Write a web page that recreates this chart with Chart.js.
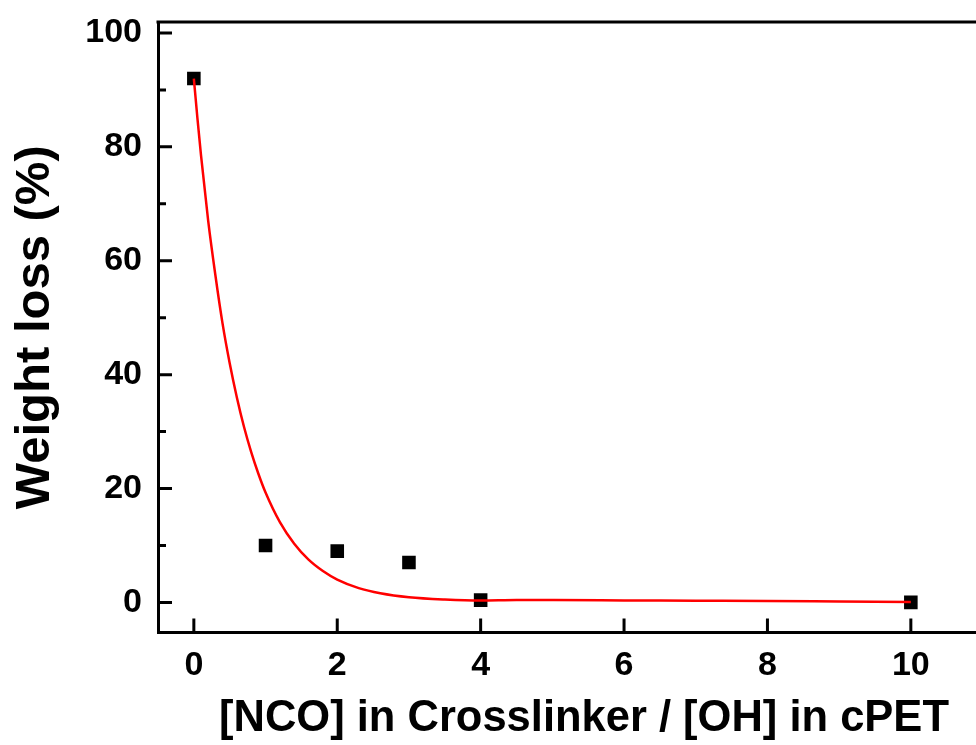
<!DOCTYPE html>
<html>
<head>
<meta charset="utf-8">
<script src="https://cdn.jsdelivr.net/npm/chart.js@4.4.1/dist/chart.umd.min.js"></script>
<style>
  html, body { margin: 0; padding: 0; background: #fff; overflow: hidden; width: 976px; height: 745px; }
  #wrap { width: 1020px; height: 745px; position: relative; }
  canvas { display: block; }
</style>
</head>
<body>
<div id="wrap"><canvas id="c" width="1020" height="745"></canvas></div>
<script>
// ---- data ----
const ratioX = [0, 1, 2, 3, 4, 10];
const weightLoss = [92, 10, 9, 7, 0.4, 0];

// fitted curve
const fitX = [0, 0.05, 0.1, 0.2, 0.3, 0.4, 0.5, 0.6, 0.7, 0.8, 0.9, 1.0, 1.2, 1.4, 1.6, 1.8, 2.0, 2.3, 2.6, 3.0, 3.5, 4.0, 4.5, 5, 6, 7, 8, 9, 10];
const fitY = [92, 85, 78.5, 67, 57.5, 49, 42, 36, 30.8, 26.4, 22.6, 19.3, 14.1, 10.3, 7.5, 5.5, 4.0, 2.5, 1.6, 0.9, 0.5, 0.32, 0.4, 0.4, 0.35, 0.3, 0.25, 0.15, 0.05];

const xTicks = [0, 2, 4, 6, 8, 10];
const yTicks = [0, 20, 40, 60, 80, 100];
const yMinorTicks = [10, 30, 50, 70, 90];

const xTitle = '[NCO] in Crosslinker / [OH] in cPET';
const yTitle = 'Weight loss (%)';

const FONT = '"Liberation Sans", Arial, sans-serif';

const frameTicks = {
  id: 'frameTicks',
  afterDraw(chart) {
    const { ctx, chartArea: a, scales } = chart;
    const x = scales.x, y = scales.y;
    ctx.save();
    ctx.strokeStyle = '#000';
    ctx.lineWidth = 3;
    ctx.lineCap = 'butt';
    ctx.beginPath();
    ctx.moveTo(a.left - 1.5, a.top);
    ctx.lineTo(a.right + 1.5, a.top);
    ctx.moveTo(a.right, a.top);
    ctx.lineTo(a.right, a.bottom);
    yTicks.forEach(v => {
      const p = y.getPixelForValue(v);
      ctx.moveTo(a.left, p); ctx.lineTo(a.left + 14, p);
    });
    yMinorTicks.forEach(v => {
      const p = y.getPixelForValue(v);
      ctx.moveTo(a.left, p); ctx.lineTo(a.left + 8, p);
    });
    xTicks.forEach(v => {
      const p = x.getPixelForValue(v);
      ctx.moveTo(p, a.bottom); ctx.lineTo(p, a.bottom - 14);
    });
    ctx.stroke();
    ctx.restore();
  }
};

new Chart(document.getElementById('c'), {
  type: 'scatter',
  data: {
    datasets: [
      {
        label: 'Fit',
        data: fitX.map((v, i) => ({ x: v, y: fitY[i] })),
        showLine: true,
        borderColor: '#ff0000',
        borderWidth: 2.5,
        pointRadius: 0,
        fill: false,
        cubicInterpolationMode: 'monotone'
      },
      {
        label: 'Weight loss',
        data: ratioX.map((v, i) => ({ x: v, y: weightLoss[i] })),
        showLine: false,
        pointStyle: 'rect',
        pointRadius: 9.6,
        pointBackgroundColor: '#000',
        pointBorderColor: '#000',
        pointBorderWidth: 0
      }
    ]
  },
  options: {
    responsive: false,
    animation: false,
    events: [],
    layout: { padding: { top: 22, right: 10, left: 0, bottom: 0 } },
    plugins: { legend: { display: false }, tooltip: { enabled: false } },
    scales: {
      x: {
        type: 'linear',
        min: -0.5,
        max: 11.383,
        afterBuildTicks: s => { s.ticks = xTicks.map(v => ({ value: v })); },
        afterFit: s => { s.height = 112.6; s.paddingLeft = 0; s.paddingRight = 0; },
        grid: { display: false, drawTicks: false },
        border: { display: true, color: '#000', width: 3 },
        ticks: {
          color: '#000',
          padding: 13,
          maxRotation: 0,
          font: { family: FONT, size: 34, weight: 'bold' }
        },
        title: {
          display: true,
          text: xTitle,
          color: '#000',
          padding: { top: 0, bottom: 0 },
          font: { family: FONT, size: 43.5, weight: 'bold' }
        }
      },
      y: {
        type: 'linear',
        min: -5.27,
        max: 101.93,
        afterBuildTicks: s => { s.ticks = yTicks.map(v => ({ value: v })); },
        afterFit: s => { s.width = 158; s.paddingTop = 0; s.paddingBottom = 0; },
        grid: { display: false, drawTicks: false },
        border: { display: true, color: '#000', width: 3 },
        ticks: {
          color: '#000',
          padding: 16,
          font: { family: FONT, size: 34, weight: 'bold' }
        },
        title: {
          display: true,
          text: yTitle,
          color: '#000',
          padding: { top: 6, bottom: 0 },
          font: { family: FONT, size: 49, weight: 'bold' }
        }
      }
    }
  },
  plugins: [frameTicks]
});
</script>
</body>
</html>
